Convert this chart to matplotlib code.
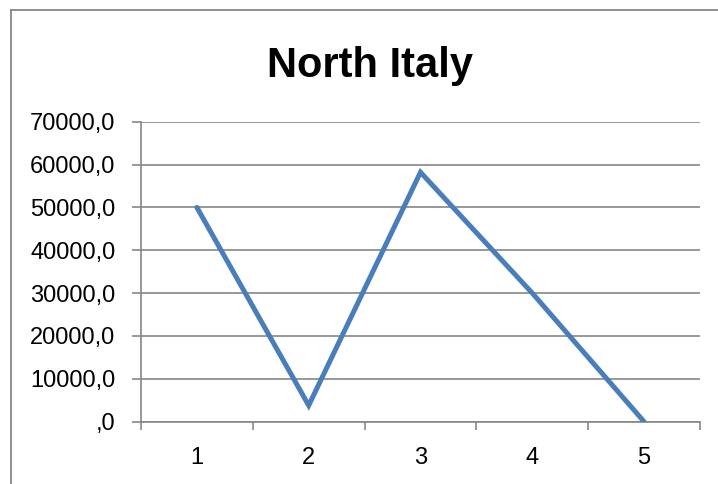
import numpy as np
import matplotlib.pyplot as plt
from matplotlib.ticker import FuncFormatter, FixedLocator
from matplotlib.lines import Line2D

categories = ['1', '2', '3', '4', '5']
values = [50000, 3800, 58200, 30000, 0]
title = 'North Italy'

plt.rcParams['font.family'] = ['Liberation Sans', 'DejaVu Sans']

fig = plt.figure(figsize=(7.18, 4.84), dpi=100, facecolor='w')
ax = fig.add_axes([141/718, 1-421.7/484, (700-141)/718, (421.7-121.7)/484])

# chart border (Excel style, cut off at right/bottom)
fig.add_artist(Line2D([10.5/718, 1.0], [1-9.5/484]*2, color='#868686', lw=1.3, transform=fig.transFigure))
fig.add_artist(Line2D([10.5/718]*2, [0, 1-9.5/484], color='#868686', lw=1.3, transform=fig.transFigure))

x = np.arange(1, len(categories)+1)
ax.plot(x, values, color='#4A7EBB', lw=3.6, solid_capstyle='round', solid_joinstyle='miter', zorder=3)

ax.set_xlim(0.5, len(categories)+0.5)
ax.set_ylim(0, 70000)
ax.set_yticks(np.arange(0, 70001, 10000))

def fmt(v, pos):
    s = '%.1f' % v
    s = s.replace('.', ',')
    if s.startswith('0,'):
        s = s[1:]
    return s

ax.yaxis.set_major_formatter(FuncFormatter(fmt))
ax.xaxis.set_major_locator(FixedLocator(np.arange(0.5, len(categories)+1, 1)))
ax.xaxis.set_minor_locator(FixedLocator(x))
ax.set_xticklabels([])
ax.set_xticklabels(categories, minor=True)

ax.grid(axis='y', color='#868686', lw=1.2)
ax.set_axisbelow(True)
for s in ['top', 'right']:
    ax.spines[s].set_visible(False)
for s in ['left', 'bottom']:
    ax.spines[s].set_color('#868686')
    ax.spines[s].set_linewidth(1.2)

ax.tick_params(axis='y', which='major', length=6.5, width=1.2, color='#868686', pad=12, labelsize=17)
ax.tick_params(axis='x', which='major', length=6, width=1.2, color='#868686', direction='out')
ax.tick_params(axis='x', which='minor', length=0, pad=18, labelsize=17)

fig.text(369.7/718, 1-76.7/484, title, ha='center', va='baseline', fontsize=30, fontweight='bold')

fig.savefig('out.png', dpi=100)
